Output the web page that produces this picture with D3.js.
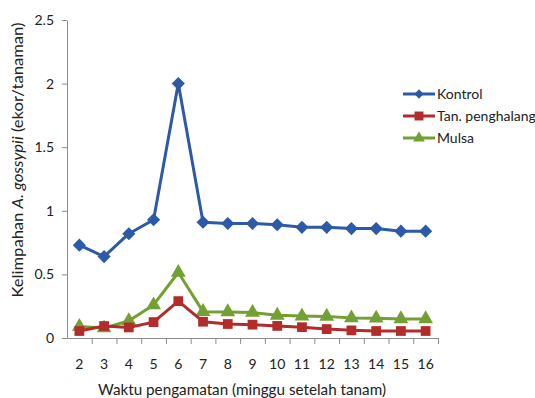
<!DOCTYPE html>
<html><head><meta charset="utf-8">
<script src="https://cdn.jsdelivr.net/npm/d3@7"></script>
<style>
html,body{margin:0;padding:0;background:#fff;}
svg{display:block;font-family:Lato,"Open Sans",sans-serif;}
</style></head>
<body>
<svg id="c" width="535" height="398"></svg>
<script>
const weeks = ["2","3","4","5","6","7","8","9","10","11","12","13","14","15","16"];
const kontrol = [0.73,0.64,0.82,0.93,2.0,0.91,0.90,0.90,0.89,0.87,0.87,0.86,0.86,0.84,0.84];
const tanPenghalang = [0.055,0.094,0.083,0.125,0.29,0.128,0.11,0.105,0.095,0.085,0.07,0.06,0.055,0.055,0.055];
const mulsa = [0.09,0.078,0.136,0.26,0.515,0.207,0.205,0.2,0.178,0.172,0.17,0.157,0.155,0.15,0.15];
const yTicks = [0,0.5,1,1.5,2,2.5];
const yTickLabels = ["0","0.5","1","1.5","2","2.5"];
const seriesNames = ["Kontrol","Tan. penghalang","Mulsa"];
const seriesColors = ["#2c5aa6","#b12c2b","#72a032"];
const seriesShapes = [d3.symbolDiamond2, d3.symbolSquare, d3.symbolTriangle];

(function(){
const svg = d3.select("#c");
const pL = 67, pR = 438, pT = 20, pB = 338;
const x = d3.scaleBand().domain(weeks).range([pL, pR]).paddingInner(0).paddingOuter(0);
const y = d3.scaleLinear().domain([0, 2.5]).range([pB, pT]);
const axisColor = "#8c8c8c";

// y axis
const yAxis = svg.append("g").attr("transform", `translate(${pL},0)`)
  .call(d3.axisLeft(y).tickValues(yTicks).tickFormat((d,i)=>yTickLabels[i]).tickSize(5).tickSizeOuter(0).tickPadding(8));
yAxis.select(".domain").attr("stroke", axisColor);
yAxis.selectAll(".tick line").attr("stroke", axisColor);
yAxis.selectAll("text").attr("fill","#222").attr("font-size","14px").attr("font-family","Lato");

// x axis boundary ticks
const idx = d3.scaleLinear().domain([0, weeks.length]).range([pL, pR]);
const xb = svg.append("g").attr("transform", `translate(0,${pB})`)
  .call(d3.axisBottom(idx).tickValues(d3.range(1, weeks.length + 1)).tickFormat("").tickSize(6).tickSizeOuter(0));
xb.select(".domain").attr("stroke", axisColor);
xb.selectAll(".tick line").attr("stroke", axisColor);
// x labels
const xl = svg.append("g").attr("transform", `translate(0,${pB})`)
  .call(d3.axisBottom(x).tickSize(0).tickPadding(21));
xl.select(".domain").remove();
xl.selectAll("text").attr("fill","#222").attr("font-size","14px").attr("font-family","Lato");

// titles
svg.append("text").attr("x", 242).attr("y", 395).attr("text-anchor","middle")
  .attr("font-size","15px").attr("fill","#222").attr("textLength",288).attr("lengthAdjust","spacingAndGlyphs")
  .text("Waktu pengamatan (minggu setelah tanam)");
const yt = svg.append("text").attr("transform","translate(23,160) rotate(-90)").attr("text-anchor","middle")
  .attr("font-size","15px").attr("fill","#222").attr("textLength",275).attr("lengthAdjust","spacingAndGlyphs");
yt.append("tspan").text("Kelimpahan ");
yt.append("tspan").attr("font-style","italic").text("A. gossypii");
yt.append("tspan").text(" (ekor/tanaman)");

// series
const data = [kontrol, tanPenghalang, mulsa];
const line = d3.line().x((d,i)=>x(weeks[i]) + x.bandwidth()/2).y(d=>y(d));
const sizes = [110, 95, 95];
[2,1,0].forEach(s => {
  const g = svg.append("g");
  g.append("path").datum(data[s]).attr("d", line).attr("fill","none")
    .attr("stroke", seriesColors[s]).attr("stroke-width", 3).attr("stroke-linejoin","round");
  g.selectAll("path.m").data(data[s]).join("path").attr("class","m")
    .attr("transform",(d,i)=>`translate(${x(weeks[i]) + x.bandwidth()/2},${y(d)})`)
    .attr("d", d3.symbol().type(seriesShapes[s]).size(sizes[s]))
    .attr("fill", seriesColors[s]);
});

// legend
const lg = svg.append("g");
const legY = [94, 116, 138];
seriesNames.forEach((n, s) => {
  lg.append("line").attr("x1",403).attr("x2",435).attr("y1",legY[s]).attr("y2",legY[s])
    .attr("stroke", seriesColors[s]).attr("stroke-width",3);
  lg.append("path").attr("transform",`translate(419,${legY[s]})`)
    .attr("d", d3.symbol().type(seriesShapes[s]).size([55,80,60][s])).attr("fill", seriesColors[s]);
  lg.append("text").attr("x",437).attr("y",legY[s]).attr("dy","0.35em")
    .attr("font-size","14px").attr("fill","#222").text(n);
});
})();
</script>
</body></html>
